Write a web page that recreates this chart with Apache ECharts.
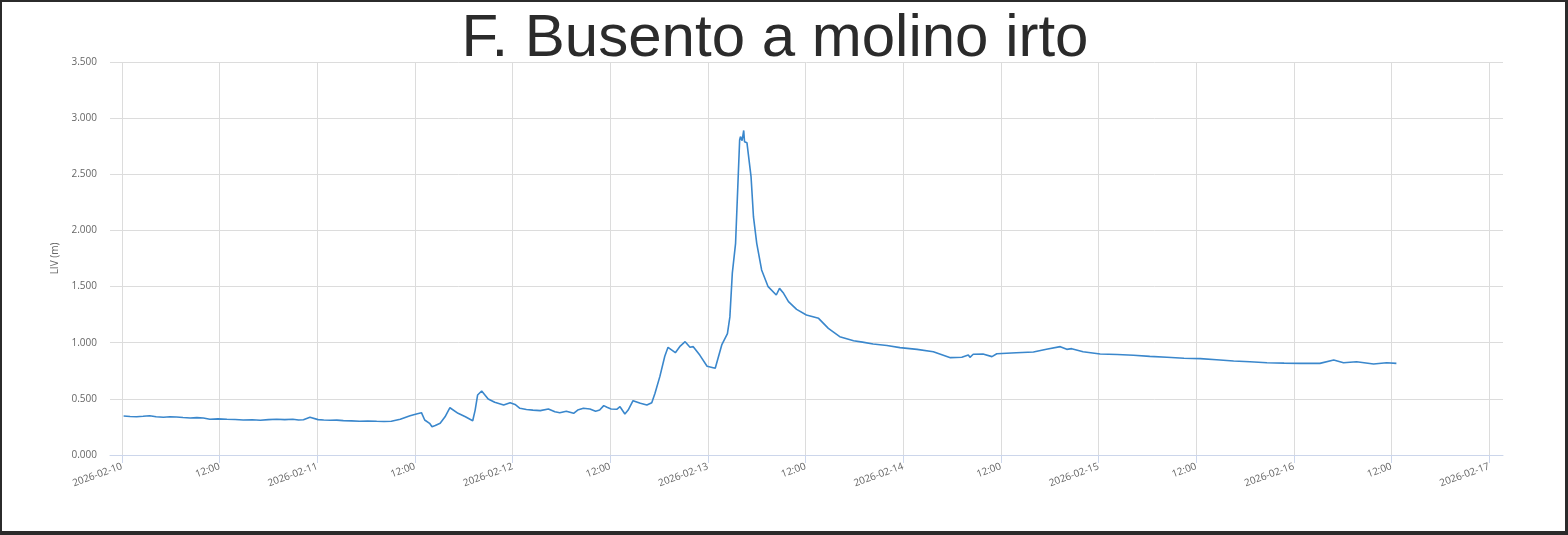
<!DOCTYPE html>
<html>
<head>
<meta charset="utf-8">
<script src="https://cdn.jsdelivr.net/npm/echarts@6/dist/echarts.min.js"></script>
<style>
  html, body { margin: 0; padding: 0; background: #2b2b2b; width: 1568px; height: 535px; overflow: hidden; }
  #chart { position: absolute; left: 2px; top: 2px; width: 1563px; height: 529px; background: #ffffff; }
</style>
</head>
<body>
<div id="chart"></div>
<script>
// Title and axis text
const titleText = "F. Busento a molino irto";
const yAxisName = "LIV (m)";

// X tick positions: hours since 2026-02-10 00:00 (every 12 h)
const tickHours = [0, 12, 24, 36, 48, 60, 72, 84, 96, 108, 120, 132, 144, 156, 168];
const dayLabels = ["2026-02-10", "2026-02-11", "2026-02-12", "2026-02-13", "2026-02-14", "2026-02-15", "2026-02-16", "2026-02-17"];
const halfDayLabel = "12:00";

// Series: hours since 2026-02-10 00:00 and level values (m)
const hours = [
  0.2, 1.0, 1.8, 2.6, 3.4, 4.2, 5.1, 5.9, 6.7, 7.5, 8.4, 9.2, 10.0, 10.8, 11.8, 12.9, 13.9, 14.9, 16.0, 17.0,
  18.0, 19.0, 20.0, 21.0, 21.7, 22.3, 23.1, 24.1, 24.8, 25.6, 26.4, 27.2, 28.2, 29.2, 30.2, 31.3, 32.2, 33.1, 34.2, 35.4,
  36.3, 36.8, 37.2, 37.8, 38.1, 38.5, 39.1, 39.7, 40.3, 41.3, 42.2, 43.1, 43.4, 43.7, 44.2, 45.0, 45.8, 46.9, 47.7, 48.3,
  48.9, 49.7, 50.5, 51.4, 52.4, 53.2, 53.8, 54.6, 55.5, 56.0, 56.7, 57.5, 58.2, 58.7, 59.2, 59.6, 60.1, 60.8, 61.2, 61.8,
  62.2, 62.8, 63.7, 64.5, 65.1, 65.5, 66.1, 66.7, 67.1, 68.0, 68.6, 69.2, 69.8, 70.2, 71.0, 71.9, 72.9, 73.7, 74.4, 74.7,
  75.0, 75.4, 75.9, 76.0, 76.2, 76.4, 76.5, 76.8, 77.3, 77.6, 78.0, 78.6, 79.4, 80.4, 80.8, 81.3, 81.9, 82.9, 84.1, 85.6,
  86.8, 88.2, 89.9, 91.0, 92.3, 94.0, 95.6, 97.7, 99.7, 101.8, 103.2, 104.0, 104.2, 104.6, 105.8, 106.9, 107.5, 109.9, 112.0, 113.6,
  115.3, 116.1, 116.7, 118.1, 120.2, 122.3, 124.3, 126.3, 128.4, 130.5, 132.5, 134.5, 136.6, 138.6, 140.7, 142.8, 144.8, 147.2, 148.9, 150.1,
  151.7, 153.8, 155.4, 156.6
];
const levels = [
  0.347, 0.343, 0.341, 0.345, 0.350, 0.340, 0.336, 0.341, 0.338, 0.334, 0.330, 0.333, 0.330, 0.318, 0.322, 0.318, 0.316, 0.312, 0.314, 0.309,
  0.315, 0.318, 0.315, 0.318, 0.312, 0.314, 0.336, 0.315, 0.312, 0.309, 0.311, 0.306, 0.304, 0.300, 0.303, 0.300, 0.298, 0.300, 0.318, 0.350,
  0.368, 0.377, 0.312, 0.282, 0.252, 0.262, 0.282, 0.340, 0.421, 0.371, 0.340, 0.305, 0.400, 0.534, 0.570, 0.499, 0.470, 0.445, 0.466, 0.450,
  0.416, 0.405, 0.400, 0.395, 0.410, 0.385, 0.377, 0.390, 0.371, 0.400, 0.416, 0.410, 0.390, 0.400, 0.440, 0.425, 0.410, 0.407, 0.430, 0.365,
  0.400, 0.484, 0.460, 0.445, 0.466, 0.550, 0.700, 0.880, 0.959, 0.911, 0.970, 1.009, 0.960, 0.965, 0.890, 0.790, 0.772, 0.980, 1.080, 1.230,
  1.620, 1.885, 2.805, 2.835, 2.800, 2.890, 2.790, 2.780, 2.480, 2.120, 1.885, 1.648, 1.499, 1.425, 1.484, 1.440, 1.366, 1.297, 1.247, 1.217,
  1.128, 1.054, 1.018, 1.005, 0.988, 0.975, 0.956, 0.941, 0.920, 0.867, 0.870, 0.890, 0.870, 0.897, 0.900, 0.876, 0.902, 0.911, 0.917, 0.941,
  0.965, 0.941, 0.947, 0.920, 0.900, 0.895, 0.888, 0.878, 0.870, 0.862, 0.858, 0.848, 0.837, 0.830, 0.822, 0.818, 0.816, 0.816, 0.846, 0.822,
  0.831, 0.810, 0.822, 0.816
];

// Axis ranges (x in hours since 2026-02-10 00:00)
const xMin = -1.47;
const xMax = 169.7;
const yMin = 0, yMax = 3.5, yInterval = 0.5;

const seriesData = hours.map((h, i) => [h, levels[i]]);

function fmtTick(v) {
  const r = Math.round(v);
  if (r % 24 === 0) return dayLabels[r / 24] || '';
  return halfDayLabel;
}

const chart = echarts.init(document.getElementById('chart'), null, { renderer: 'canvas' });
const gridColor = '#dcdcdc';
const axisColor = '#ccd6eb';
const labelFont = "'Open Sans', sans-serif";

chart.setOption({
  animation: false,
  backgroundColor: '#ffffff',
  graphic: [{
    type: 'text',
    x: 773,
    y: 37,
    style: {
      text: titleText,
      font: "60px 'Liberation Sans', Arial, sans-serif",
      fill: '#2b2b2b',
      align: 'center',
      verticalAlign: 'middle'
    }
  }],
  grid: { left: 108, right: 62, top: 60, bottom: 76, containLabel: false },
  xAxis: {
    type: 'value',
    min: xMin,
    max: xMax,
    axisLine: { show: true, lineStyle: { color: axisColor, width: 1 } },
    axisTick: { show: true, length: 8, customValues: tickHours, lineStyle: { color: axisColor } },
    splitLine: { show: true, lineStyle: { color: gridColor, width: 1 } },
    axisLabel: {
      customValues: tickHours,
      rotate: 20,
      fontSize: 10,
      fontFamily: labelFont,
      color: '#666666',
      margin: 11,
      hideOverlap: false,
      formatter: fmtTick
    }
  },
  yAxis: {
    type: 'value',
    min: yMin,
    max: yMax,
    interval: yInterval,
    name: yAxisName,
    nameLocation: 'middle',
    nameGap: 46,
    nameTextStyle: { fontSize: 10, fontFamily: labelFont, color: '#666666' },
    axisLine: { show: false },
    axisTick: { show: false },
    splitLine: { show: true, lineStyle: { color: gridColor, width: 1 } },
    axisLabel: {
      fontSize: 10,
      fontFamily: labelFont,
      color: '#666666',
      margin: 13,
      formatter: v => v.toFixed(3)
    }
  },
  series: [{
    type: 'line',
    data: seriesData,
    showSymbol: false,
    smooth: false,
    lineStyle: { color: '#3a87cc', width: 1.6 },
    itemStyle: { color: '#3a87cc' }
  }]
});
</script>
</body>
</html>
